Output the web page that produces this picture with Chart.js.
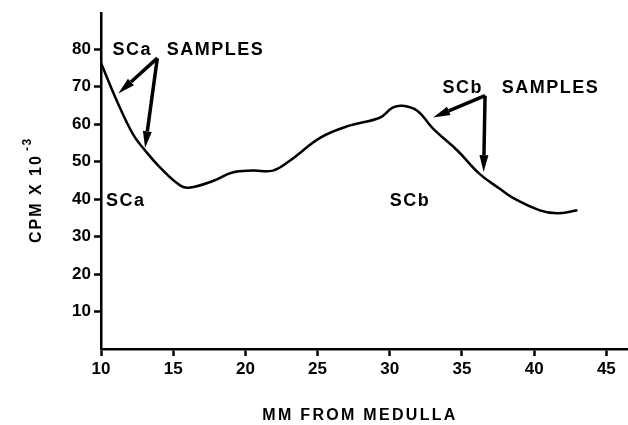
<!DOCTYPE html>
<html>
<head>
<meta charset="utf-8">
<script src="https://cdn.jsdelivr.net/npm/chart.js@4/dist/chart.umd.min.js"></script>
<style>
  html, body { margin: 0; padding: 0; background: #fff; }
  #wrap { width: 628px; height: 425px; position: relative; }
</style>
</head>
<body>
<div id="wrap"><canvas id="chart"></canvas></div>
<script>
// distance from medulla (mm) and counts (CPM x 10^-3)
const mmFromMedulla = [10, 11.1, 12.2, 12.9, 14.1, 15.5, 16.2, 17.8, 19.1, 20.5, 21.9, 23.1, 25.2, 27.2, 29.3, 30.2, 30.9, 31.9, 33.0, 34.7, 36.2, 37.6, 38.5, 40.4, 41.6, 43.0];
const cpm = [76.3, 66.2, 57.4, 53.7, 48.4, 43.6, 43.1, 44.9, 47.1, 47.6, 47.6, 50.3, 56.4, 59.6, 61.7, 64.4, 64.9, 63.6, 58.8, 52.9, 46.8, 42.8, 40.4, 37.0, 36.2, 37.0];

const xTicks = [10, 15, 20, 25, 30, 35, 40, 45];
const yTicks = [10, 20, 30, 40, 50, 60, 70, 80];

// text labels in data coordinates
const labels = [
  { text: "SCa", x: 10.8, y: 79.8 },
  { text: "SAMPLES", x: 14.55, y: 79.8 },
  { text: "SCa", x: 10.35, y: 39.6 },
  { text: "SCb", x: 33.65, y: 69.5 },
  { text: "SAMPLES", x: 37.75, y: 69.5 },
  { text: "SCb", x: 30.0, y: 39.6 }
];

// arrows: [fromX, fromY, toX, toY]
const arrows = [
  [13.9, 77.6, 11.2, 68.2],
  [13.9, 77.6, 13.05, 53.6],
  [36.6, 67.6, 33.0, 61.8],
  [36.6, 67.6, 36.5, 47.2]
];

const FONT = '"Liberation Sans", Arial, Helvetica, sans-serif';

const drawArrow = (ctx, x1, y1, x2, y2) => {
  const ang = Math.atan2(y2 - y1, x2 - x1);
  const headLen = 17, headW = 4.5;
  const bx = x2 - headLen * Math.cos(ang);
  const by = y2 - headLen * Math.sin(ang);
  ctx.beginPath();
  ctx.moveTo(x1, y1);
  ctx.lineTo(bx, by);
  ctx.lineWidth = 3.5;
  ctx.stroke();
  ctx.beginPath();
  ctx.moveTo(x2, y2);
  ctx.lineTo(bx + headW * Math.sin(ang), by - headW * Math.cos(ang));
  ctx.lineTo(bx - headW * Math.sin(ang), by + headW * Math.cos(ang));
  ctx.closePath();
  ctx.fill();
};

const annotationPlugin = {
  id: "annotations",
  afterDraw(chart) {
    const { ctx, scales: { x, y }, chartArea } = chart;
    ctx.save();
    ctx.fillStyle = "#000";
    ctx.strokeStyle = "#000";

    ctx.font = "bold 18px " + FONT;
    ctx.letterSpacing = "1.5px";
    ctx.textAlign = "left";
    ctx.textBaseline = "middle";
    labels.forEach((l) => {
      ctx.fillText(l.text, x.getPixelForValue(l.x), y.getPixelForValue(l.y));
    });

    arrows.forEach((a) => {
      drawArrow(ctx, x.getPixelForValue(a[0]), y.getPixelForValue(a[1]),
        x.getPixelForValue(a[2]), y.getPixelForValue(a[3]));
    });

    // x axis title
    ctx.font = "bold 16px " + FONT;
    ctx.letterSpacing = "2.3px";
    ctx.textAlign = "center";
    ctx.fillText("MM FROM MEDULLA", 360, chartArea.bottom + 67);

    // y axis title with superscript
    ctx.translate(chartArea.left - 64, 243);
    ctx.rotate(-Math.PI / 2);
    ctx.textAlign = "left";
    ctx.letterSpacing = "2px";
    ctx.fillText("CPM X 10", 0, 0);
    const w = ctx.measureText("CPM X 10").width;
    ctx.font = "bold 12px " + FONT;
    ctx.letterSpacing = "1.5px";
    ctx.fillText("-3", w + 3, -9);
    ctx.restore();
  }
};

const axisStyle = {
  grid: {
    drawOnChartArea: false,
    drawTicks: true,
    tickLength: 7,
    tickWidth: 2.5,
    color: "#000"
  },
  border: { display: true, color: "#000", width: 2.5 },
  ticks: {
    color: "#000",
    font: { family: FONT, size: 17, weight: "bold" },
    padding: 3
  }
};

new Chart(document.getElementById("chart"), {
  type: "line",
  data: {
    datasets: [
      {
        data: mmFromMedulla.map((v, i) => ({ x: v, y: cpm[i] })),
        borderColor: "#000",
        borderWidth: 2.5,
        pointRadius: 0,
        tension: 0.4,
        fill: false
      }
    ]
  },
  options: {
    responsive: true,
    maintainAspectRatio: false,
    animation: false,
    events: [],
    layout: { padding: { top: 12, left: 0, right: 0, bottom: 0 } },
    plugins: {
      legend: { display: false },
      tooltip: { enabled: false },
      title: { display: false }
    },
    scales: {
      x: {
        type: "linear",
        min: 10,
        max: 46.5,
        ...axisStyle,
        afterBuildTicks: (scale) => {
          scale.ticks = xTicks.map((v) => ({ value: v }));
        },
        afterFit: (scale) => {
          scale.height = 76;
        }
      },
      y: {
        type: "linear",
        min: 0,
        max: 89.6,
        ...axisStyle,
        afterBuildTicks: (scale) => {
          scale.ticks = yTicks.map((v) => ({ value: v }));
        },
        afterFit: (scale) => {
          scale.width = 101;
        }
      }
    }
  },
  plugins: [annotationPlugin]
});
</script>
</body>
</html>
